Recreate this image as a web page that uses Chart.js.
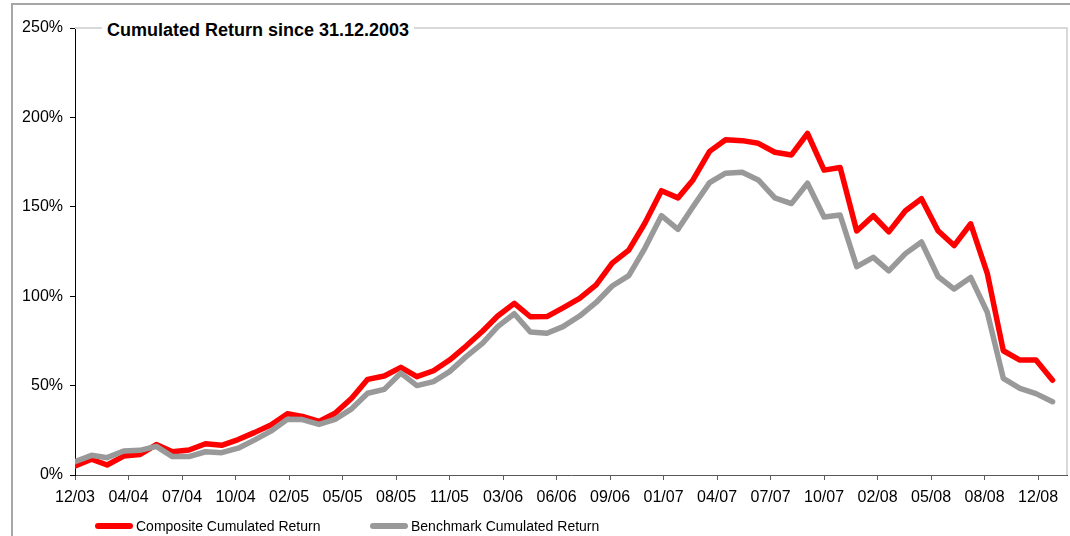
<!DOCTYPE html>
<html>
<head>
<meta charset="utf-8">
<script src="https://cdn.jsdelivr.net/npm/chart.js@4/dist/chart.umd.min.js"></script>
<style>
    body { margin: 0; background: #fff; overflow: hidden; width: 1070px; height: 536px; position: relative; font-family: "Liberation Sans", Arial, sans-serif; }
    #frame { position: absolute; left: 11px; top: 3px; width: 1200px; height: 700px; border: 2px solid #a6a6a6; }
    #trendChart { position: absolute; left: 0; top: 0; }
    .chart-title { position: absolute; left: 102px; top: 20px; padding: 0 5px; background: #fff; font-weight: bold; font-size: 18px; color: #000; }
    .legend-item { position: absolute; top: 518px; font-size: 14px; color: #000; white-space: nowrap; }
    .legend-item span { display: inline-block; width: 38px; height: 6px; border-radius: 3px; vertical-align: middle; margin-right: 3px; position: relative; top: -1px; }
</style>
</head>
<body>
<div id="frame"></div>
<canvas id="trendChart" width="1070" height="536"></canvas>
<div class="chart-title">Cumulated Return since 31.12.2003</div>
<div class="legend-item" style="left: 95px;"><span style="background:#ff0000"></span>Composite Cumulated Return</div>
<div class="legend-item" style="left: 370px;"><span style="background:#999999"></span>Benchmark Cumulated Return</div>
<script>
// month-end observations, 31.12.2003 .. 31.12.2008
const months = [
    '12/03',
    '01/04', '02/04', '03/04', '04/04', '05/04', '06/04', '07/04', '08/04', '09/04', '10/04', '11/04', '12/04',
    '01/05', '02/05', '03/05', '04/05', '05/05', '06/05', '07/05', '08/05', '09/05', '10/05', '11/05', '12/05',
    '01/06', '02/06', '03/06', '04/06', '05/06', '06/06', '07/06', '08/06', '09/06', '10/06', '11/06', '12/06',
    '01/07', '02/07', '03/07', '04/07', '05/07', '06/07', '07/07', '08/07', '09/07', '10/07', '11/07', '12/07',
    '01/08', '02/08', '03/08', '04/08', '05/08', '06/08', '07/08', '08/08', '09/08', '10/08', '11/08', '12/08',
];

// cumulated return in %
const composite = [
    5.0,
    8.8, 5.6, 10.6, 11.4, 17.0, 13.0, 14.0, 17.5, 16.6, 19.8, 23.7, 28.0,
    34.3, 32.8, 30.0, 34.5, 42.9, 53.5, 55.4, 60.2, 55.0, 58.3, 64.3, 72.1,
    80.5, 88.9, 96.0, 88.5, 88.6, 93.5, 98.8, 106.3, 118.5, 125.8, 140.8, 159.0,
    155.0, 165.0, 181.0, 187.5, 187.0, 185.5, 180.5, 179.0, 191.0, 170.5, 172.0, 136.5,
    145.0, 136.0, 147.8, 154.5, 136.6, 128.3, 140.5, 112.8, 69.5, 64.3, 64.3, 53.0,
];

const benchmark = [
    7.5,
    11.0, 9.7, 13.4, 13.8, 16.0, 10.3, 10.3, 13.0, 12.5, 15.0, 19.5, 24.5,
    31.2, 31.0, 28.3, 31.1, 37.0, 45.7, 47.9, 57.0, 50.0, 52.2, 57.8, 66.2,
    73.8, 83.0, 90.2, 80.0, 79.3, 83.0, 88.9, 96.5, 105.7, 111.5, 126.8, 145.0,
    137.4, 150.0, 163.5, 168.8, 169.3, 165.0, 155.0, 151.8, 163.2, 144.3, 145.4, 116.5,
    121.7, 114.2, 123.8, 130.3, 111.0, 104.0, 110.5, 91.0, 54.0, 48.5, 45.5, 41.0,
];

const yTicks = [0, 50, 100, 150, 200, 250];
const DAY = 86400000;
const START = Date.UTC(2003, 11, 31);

// x = days since 31.12.2003 (date axis, major unit 100 days like the original)
function dayOf(label) {
    const [mm, yy] = label.split('/').map(Number);
    return Math.round((Date.UTC(2000 + yy, mm, 0) - START) / DAY);
}

function points(values) {
    return months.map((m, i) => ({ x: dayOf(m), y: values[i] }));
}

function fmtDate(days) {
    const d = new Date(START + days * DAY);
    const mm = String(d.getUTCMonth() + 1).padStart(2, '0');
    const yy = String(d.getUTCFullYear() % 100).padStart(2, '0');
    return `${mm}/${yy}`;
}

const plotBorder = {
    id: 'plotBorder',
    beforeDatasetsDraw(chart) {
        const { ctx, chartArea: a } = chart;
        ctx.save();
        ctx.strokeStyle = '#d9d9d9';
        ctx.lineWidth = 2;
        ctx.beginPath();
        ctx.moveTo(a.left, a.top);
        ctx.lineTo(a.right, a.top);
        ctx.lineTo(a.right, a.bottom);
        ctx.stroke();
        ctx.restore();
    },
};

Chart.defaults.font.family = '"Liberation Sans", Arial, sans-serif';
Chart.defaults.color = '#000';

new Chart(document.getElementById('trendChart'), {
    type: 'line',
    data: {
        datasets: [
            {
                label: 'Composite Cumulated Return',
                data: points(composite),
                borderColor: '#ff0000',
                backgroundColor: '#ff0000',
                borderWidth: 5.5,
                pointRadius: 0,
                tension: 0,
                borderJoinStyle: 'round',
                borderCapStyle: 'round',
                order: 1,
            },
            {
                label: 'Benchmark Cumulated Return',
                data: points(benchmark),
                borderColor: '#999999',
                backgroundColor: '#999999',
                borderWidth: 5.5,
                pointRadius: 0,
                tension: 0,
                borderJoinStyle: 'round',
                borderCapStyle: 'round',
                order: 0,
            },
        ],
    },
    options: {
        responsive: false,
        animation: false,
        layout: { padding: { left: 0, right: 3, top: 28, bottom: 0 } },
        plugins: {
            legend: { display: false },
            tooltip: { enabled: false },
        },
        scales: {
            x: {
                type: 'linear',
                min: 0,
                max: 1854,
                afterFit(scale) { scale.height = 61; },
                border: { color: '#595959', width: 1 },
                grid: { drawOnChartArea: false, drawTicks: true, tickLength: 5, color: '#595959' },
                ticks: {
                    stepSize: 100,
                    includeBounds: false,
                    autoSkip: false,
                    maxRotation: 0,
                    padding: 8,
                    font: { size: 16 },
                    callback: value => fmtDate(value),
                },
            },
            y: {
                min: 0,
                max: 250,
                afterFit(scale) { scale.width = 75; },
                afterBuildTicks(scale) { scale.ticks = yTicks.map(v => ({ value: v })); },
                border: { color: '#000', width: 1 },
                grid: { drawOnChartArea: false, drawTicks: true, tickLength: 5, color: '#000' },
                ticks: {
                    padding: 7,
                    font: { size: 16 },
                    callback: value => `${value}%`,
                },
            },
        },
    },
    plugins: [plotBorder],
});
</script>
</body>
</html>
